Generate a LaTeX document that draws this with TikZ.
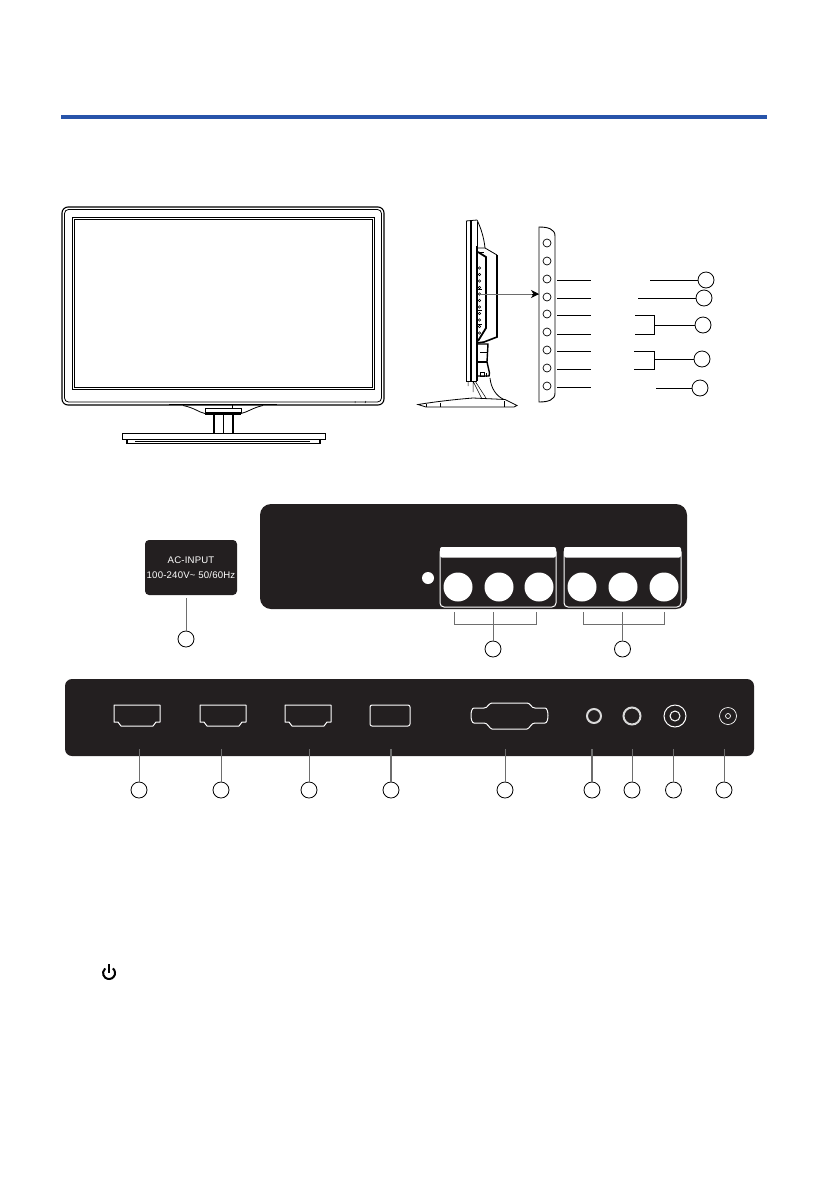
\documentclass[tikz,border=0pt]{standalone}
\usepackage{fontspec}
\setmainfont{Liberation Sans}
\usetikzlibrary{arrows.meta}
\definecolor{panel}{RGB}{35, 31, 32}
\definecolor{rule}{RGB}{40, 84, 170}
\definecolor{lead}{RGB}{110, 110, 110}
\tikzset{
  callout/.style={circle, draw=black, line width=.8pt, fill=white, minimum size=16pt, inner sep=0, outer sep=0},
  button/.style={circle, draw=black, line width=.7pt, minimum size=8pt, inner sep=0, outer sep=0},
  hole/.style={circle, fill=white, minimum size=29pt, inner sep=0, outer sep=0},
  ring/.style={circle, draw=white, minimum size=#1, inner sep=0, outer sep=0},
  wire/.style={line width=.7pt, black},
  grey/.style={line width=.8pt, lead},
  outline/.style={line width=.8pt, black},
  port/.style={draw=white, line width=1pt, line join=round}
}
\begin{document}
\begin{tikzpicture}[x=1pt, y=-1pt]
  \useasboundingbox (0,0) rectangle (840,1192);
  \draw[rule, line width=4pt] (61,117) -- (767,117);

  % front view
  \draw[outline, line width=1.1pt, rounded corners=6pt] (62,207) rectangle (384,405);
  \draw[outline, rounded corners=4pt] (64.5,209.5) rectangle (381.5,402);
  \draw[outline, line width=1pt] (72,217) rectangle (374,389.5);
  \draw[outline] (74,219) rectangle (372,387.5);
  \draw[outline, line width=1.4pt] (169,404.5) -- (277,404.5);
  \draw[outline] (183,405.5) .. controls (195,408) and (198,412) .. (205,413.5);
  \draw[outline] (263,405.5) .. controls (252,408) and (248,412) .. (241,413.5);
  \draw[outline] (205,408) rectangle (241,412);
  \draw[outline, line width=1.4pt] (205,414) -- (241,414);
  \draw[outline] (232,405) -- (232,408);
  \draw[outline, line width=.5pt] (355,401) -- (355,403) (366,401) -- (365,403);
  \draw[outline, line width=1.3pt] (214,414) -- (214,433) (233,414) -- (233,433);
  \draw[outline, line width=.5pt] (223,414) -- (223,433);
  \draw[outline] (122,433) rectangle (325,439);
  \draw[outline, line width=1.2pt] (127,440) -- (127,443.5) -- (320,443.5) -- (320,440);
  \draw[outline, line width=.4pt] (135,441) -- (310,441);

  % side view
  \draw[outline] (466,221) -- (466,381) -- (477,381);
  \draw[outline] (466,221) -- (477,220);
  \draw[outline, line width=2.4pt] (471,221) -- (471,381);
  \draw[outline, line width=1.6pt] (477,246) -- (477,381);
  \draw[outline] (477,220) .. controls (481,228) and (484,238) .. (485,248);
  \draw[outline] (477,248) -- (485,248) -- (497,255);
  \draw[outline] (477,222) -- (477,246);
  \draw[outline, line width=1.6pt] (497,255) -- (497,337) -- (484,342) -- (477,343);
  \draw[outline, line width=1.8pt] (478,252) -- (486,257) -- (486,328) -- (478,341);
  \draw[outline] (477,252) -- (484,252);
  \draw[outline, line width=1.4pt] (477,344) -- (488,344) -- (487,362) -- (489.5,373) -- (489,376) -- (477,376);
  \draw[outline, line width=.5pt] (480,352) -- (488,352);
  \draw[outline, line width=1.2pt] (478,362) -- (487,362);
  \draw[outline, line width=1pt] (480,372) rectangle (484,376) (486,373) -- (486,377);
  \draw[outline, line width=.5pt] (473,381) -- (482,399) (475,381) -- (486,398) (468,381) -- (468,386) (473,381) -- (473,392);
  \draw[outline] (490,378) .. controls (491,388) and (496,396) .. (504,399.5);
  \foreach \y in {268,274.5,...,336}
    \draw[black, line width=.6pt] (479.5,\y) circle (1.3pt);
  \draw[black, line width=.8pt] (477,289) -- (482,289) (477,310) -- (482,310) (477,324) -- (482,324);
  \draw[outline] (418,404.5) .. controls (440,401) and (460,399) .. (473,398) -- (505,399.5) -- (517,405.5) -- (514,407) -- (426,407) -- cycle;
  \draw[outline] (426,407) -- (426,404) (440,407) -- (440,403) (504,407) -- (504,401);

  % button strip
  \draw[outline, line width=.9pt] (555,236) .. controls (555,229) and (548,227) .. (539,227) -- (539,402) .. controls (548,402) and (555,400) .. (555,393) -- cycle;
  \foreach \n/\y in {1/243,2/261,3/279,4/297,5/314,6/332,7/350,8/368,9/386}
    \node[button] (B\n) at (547,\y) {};
  \coordinate (S) at (479,294);
  \coordinate (T) at (539,294);
  \draw[lead, line width=.7pt] (S) -- (T);
  \draw[-{Stealth[length=8pt,width=8pt,inset=2.5pt]}, black, line width=.8pt] (532,294) -- (T);

  % side callouts
  \node[callout] (K1) at (706,280) {};
  \node[callout] (K2) at (704,298) {};
  \node[callout] (K3) at (703,325) {};
  \node[callout] (K4) at (702,359) {};
  \node[callout] (K5) at (700,388) {};
  \foreach \n/\y in {3/280,4/298,5/315,6/334,7/351,8/369,9/387}{
    \coordinate (L\n) at (557,\y);
    \coordinate (M\n) at (591,\y);
    \draw[wire] (L\n) -- (M\n);
  }
  \coordinate (P1) at (650,280);
  \coordinate (P2) at (638,298);
  \coordinate (P5) at (656,388);
  \draw[wire] (P1) -- (K1);
  \draw[wire] (P2) -- (K2);
  \draw[wire] (P5) -- (K5);
  \coordinate (Q3) at (654,325);
  \coordinate (Q4) at (654,359);
  \draw[wire] (635,315) -- (654,315) -- (654,334) -- (635,334);
  \draw[wire] (634,351) -- (654,351) -- (654,369) -- (634,369);
  \draw[wire] (Q3) -- (K3);
  \draw[wire] (Q4) -- (K4);

  % AC label
  \node[fill=panel, rounded corners=4pt, minimum width=92pt, minimum height=55pt, inner sep=0, outer sep=0,
        text=white, align=center, font=\fontsize{9.6}{14.5}\selectfont\addfontfeatures{LetterSpace=2}] (AC) at (191,567.5)
        {AC-INPUT\\100-240V\textasciitilde\ 50/60Hz};
  \coordinate (a) at (186,598);
  \node[callout] (K6) at (186,639) {};
  \draw[grey] (a) -- (K6);

  % upper terminal panel
  \fill[panel, rounded corners=11pt] (260,504) rectangle (687,609);
  \node[circle, fill=white, minimum size=12pt, inner sep=0] (dot) at (428,578) {};
  \foreach \x/\w in {440/556,564/681}{
    \draw[white, line width=1pt, rounded corners=4pt] (\x,548) rectangle (\w,607);
    \fill[white, rounded corners=2pt] (\x,547) rectangle (\w,557.5);
  }
  \foreach \n/\x in {1/458,2/499,3/539,4/582,5/623,6/664}
    \node[hole] (H\n) at (\x,587) {};
  \draw[grey, line width=.6pt] (454,612) -- (454,624) -- (536,624) -- (536,612);
  \draw[grey, line width=.6pt] (583,612) -- (583,624) -- (664,624) -- (664,612);
  \node[callout] (K7) at (493,649) {};
  \node[callout] (K8) at (622.5,649) {};
  \coordinate (b) at (493,612);
  \coordinate (c) at (622.5,612);
  \draw[grey, line width=.6pt] (b) -- (K7);
  \draw[grey, line width=.6pt] (c) -- (K8);

  % lower terminal panel
  \fill[panel, rounded corners=7pt] (65,679) rectangle (754,756);
  \foreach \x in {114,200,285}
    \draw[port] (\x,705) -- ++(46,0) -- ++(0,17) -- ++(-4,0) -- ++(-3,4) -- ++(-32,0) -- ++(-3,-4) -- ++(-4,0) -- cycle;
  \draw[port, rounded corners=2pt] (370,705) rectangle (410,726);
  \draw[port, rounded corners=3pt] (487,708) .. controls (489,704) and (491,703) .. (495,703) -- (524,703)
     .. controls (528,703) and (530,704) .. (532,708) -- (542,708) .. controls (549,708) and (549,723) .. (542,723) -- (532,723)
     .. controls (530,727) and (528,729) .. (524,729) -- (495,729) .. controls (491,729) and (489,727) .. (487,723) -- (477,723)
     .. controls (470,723) and (470,708) .. (477,708) -- cycle;
  \node[ring=14pt, line width=2pt, white!85!black] (J1) at (594,716) {};
  \node[ring=17pt, line width=2pt, white!85!black] (J2) at (632,716) {};
  \node[ring=22pt, line width=1pt] (J3) at (675,716) {};
  \node[ring=10pt, line width=1pt] at (J3) {};
  \node[ring=17pt, line width=.7pt] (J4) at (728,716) {};
  \node[ring=5pt, line width=.7pt] at (J4) {};

  \foreach \n/\x/\w in {9/139/.8,10/221/.8,11/309/.8,12/391/1.4,13/505/.8,14/592/1.4,15/632/.8,16/673.5/1.4,17/724/.8}{
    \coordinate (E\n) at (\x,749);
    \node[callout] (K\n) at (\x,790) {};
    \draw[grey, line width=\w pt] (E\n) -- (K\n);
  }

  % power symbol
  \draw[black, line width=2pt] (112.9,968.4) arc[start angle=-50, end angle=230, radius=6];
  \draw[black, line width=1.8pt] (109,964) -- (109,973);
\end{tikzpicture}
\end{document}
